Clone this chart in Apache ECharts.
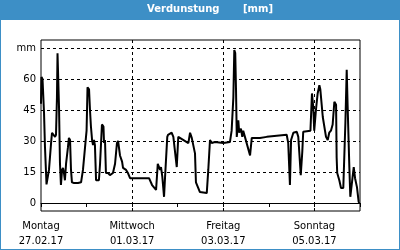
<!DOCTYPE html>
<html>
<head>
<meta charset="utf-8">
<script src="https://cdn.jsdelivr.net/npm/echarts@6/dist/echarts.min.js"></script>
<style>
  html, body { margin: 0; padding: 0; background: #fff; }
  #main { width: 400px; height: 250px; }
</style>
</head>
<body>
<div id="main"></div>
<script>
// Stunden seit Montag 27.02.17 00:00
var hours = [0, 0.26, 0.8, 1.6, 2.1, 2.9, 4.2, 5.3, 5.8, 6.8, 7.4, 7.9, 8.4, 8.7, 9.2, 9.5, 10.0, 10.5, 11.1, 11.6,
    12.1, 12.6, 13.2, 14.2, 14.7, 15.3, 15.8, 16.3, 17.4, 19.5, 21.1, 22.1, 23.2, 24.0, 24.5, 25.3, 25.8, 26.3, 26.9, 27.4,
    27.9, 28.4, 29.0, 30.5, 31.1, 32.1, 32.9, 33.2, 33.7, 34.2, 35.3, 36.3, 37.9, 39.0, 40.0, 40.6, 41.6, 42.7, 43.2, 44.8,
    45.8, 46.9, 56.9, 58.5, 60.6, 61.5, 62.7, 63.2, 63.9, 64.8, 65.3, 66.5, 66.9, 68.8, 69.7, 71.5, 72.3, 73.2, 77.6, 78.5,
    79.4, 81.1, 81.6, 83.7, 87.3, 88.1, 89.0, 89.9, 91.6, 96.0, 99.5, 100.4, 101.3, 101.8, 102.3, 102.7, 103.1, 103.9, 104.4, 105.3,
    106.0, 106.5, 107.4, 110.1, 111.0, 115.3, 118.9, 129.4, 130.2, 131.1, 131.7, 132.9, 134.7, 135.5, 136.8, 137.6, 138.1, 141.9,
    142.7, 143.4, 143.9, 144.8, 145.7, 146.6, 147.1, 148.4, 150.1, 151.0, 151.8, 152.7, 153.6, 154.5, 155.4, 155.7, 156.0, 157.1,
    158.0, 159.2, 160.3, 161.0, 161.5, 162.4, 162.9, 163.8, 164.7, 165.4, 166.4, 167.3, 167.7];
// Verdunstung in mm
var verdunstung = [48, 61, 60, 43.5, 27, 9, 16, 29, 34, 34.5, 32, 33, 51, 72.5, 72, 46, 19, 8.7, 16, 17,
    14.5, 11, 19, 27, 31.5, 30.5, 16, 10, 9.7, 9.7, 10, 16, 27, 35, 56, 55, 45, 37, 30.5, 28,
    30.5, 28, 11, 11, 19, 38, 37, 29, 30.5, 14.5, 14.5, 13.5, 14.5, 19, 29, 30, 23, 20, 17, 16,
    14.5, 12, 12, 8.7, 6.3, 19, 16, 17.4, 12.6, 3, 12, 32, 33, 34, 32, 17.4, 32, 32.4, 29, 34,
    31.5, 24, 10, 5.3, 4.8, 16, 30.5, 29, 29.5, 29, 29.5, 35, 51, 74, 72.5, 55, 32, 40, 34, 36,
    32, 35, 32, 23, 31.5, 31.5, 32, 33, 29, 8.7, 30.5, 34, 34.5, 32, 13.5, 24.7, 34.5, 35,
    53, 46, 35, 45, 53, 57, 55, 41.6, 32, 30.5, 34, 35, 38, 49, 47.5, 22, 14.5, 11,
    7.3, 7.3, 38.7, 64.5, 46.5, 17, 3, 2.4, 17.4, 12, 7.7, 0.5, 0];

var yTicks = [0, 15, 30, 45, 60, 75];
var dayHours = [0, 48, 96, 144];
var dayNames = ['Montag', 'Mittwoch', 'Freitag', 'Sonntag'];
var dayDates = ['27.02.17', '01.03.17', '03.03.17', '05.03.17'];

var seriesData = [];
for (var i = 0; i < hours.length; i++) {
    seriesData.push([hours[i], verdunstung[i]]);
}

var gridLines = [];
for (var i = 0; i < yTicks.length; i++) {
    gridLines.push({ yAxis: yTicks[i] });
}
for (var i = 1; i < dayHours.length; i++) {
    gridLines.push({ xAxis: dayHours[i] });
}

var myChart = echarts.init(document.getElementById('main'));
var option = {
    animation: false,
    graphic: [
        { type: 'rect', shape: { x: 0, y: 0, width: 400, height: 250 },
          style: { fill: 'none', stroke: '#3d8fc6', lineWidth: 2 } },
        { type: 'rect', shape: { x: 0, y: 0, width: 400, height: 20 },
          style: { fill: '#3d8fc6' } },
        { type: 'text', left: 147, top: 4,
          style: { text: 'Verdunstung', fill: '#fff', font: 'bold 10px "DejaVu Sans"' } },
        { type: 'text', left: 243, top: 4,
          style: { text: '[mm]', fill: '#fff', font: 'bold 10px "DejaVu Sans"' } }
    ],
    grid: {
        left: 41, right: 40, top: 40, bottom: 39,
        show: true, borderColor: '#000', borderWidth: 1
    },
    xAxis: {
        type: 'value',
        min: 0, max: 168, interval: 24,
        axisLine: { show: true, lineStyle: { color: '#000', width: 1 } },
        axisTick: { show: true, length: 4, lineStyle: { color: '#000' } },
        splitLine: { show: false },
        axisLabel: {
            margin: 8,
            color: '#000',
            fontFamily: 'DejaVu Sans',
            fontSize: 10,
            lineHeight: 15,
            formatter: function (v) {
                var k = dayHours.indexOf(v);
                return k >= 0 ? dayNames[k] + '\n' + dayDates[k] : '';
            }
        }
    },
    yAxis: {
        type: 'value',
        min: -3.87, max: 78.87,
        axisLine: { show: false },
        axisTick: { show: false, customValues: yTicks },
        splitLine: { show: false },
        axisLabel: {
            customValues: yTicks,
            margin: 5,
            color: '#000',
            fontFamily: 'DejaVu Sans',
            fontSize: 10,
            formatter: function (v) { return v === 75 ? 'mm' : String(v); }
        }
    },
    series: [{
        type: 'line',
        data: seriesData,
        showSymbol: false,
        lineStyle: { color: '#000', width: 2 },
        markLine: {
            silent: true,
            symbol: 'none',
            label: { show: false },
            lineStyle: { color: '#000', type: [3, 3], width: 1 },
            data: gridLines
        }
    }]
};
myChart.setOption(option);
</script>
</body>
</html>
